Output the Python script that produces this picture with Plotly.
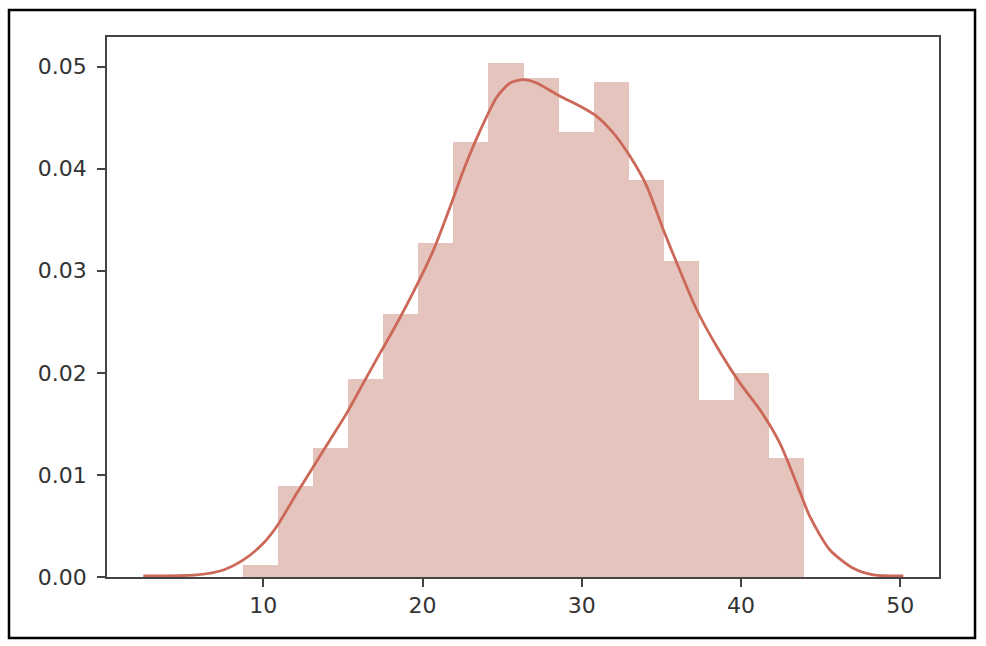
import plotly.graph_objects as go

# Histogram (density) bin edges and heights
bin_edges = [8.71, 10.91, 13.12, 15.32, 17.53, 19.73, 21.94, 24.14, 26.35,
             28.55, 30.75, 32.96, 35.16, 37.37, 39.57, 41.78, 43.98]
bin_density = [0.00118, 0.00892, 0.01262, 0.01941, 0.02578, 0.03271, 0.04258,
               0.05036, 0.04889, 0.04360, 0.04846, 0.03892, 0.03092, 0.01735,
               0.01997, 0.01163]

# KDE curve points
kde_x = [2.46, 5.82, 7.49, 8.74, 10.00, 10.84, 12.10, 13.14, 14.19, 15.24,
         16.28, 17.33, 18.17, 19.42, 20.68, 21.73, 22.56, 23.61, 24.66, 25.50,
         26.33, 27.17, 28.64, 29.90, 30.94, 31.98, 33.03, 34.08, 35.13, 36.17,
         37.22, 38.48, 39.94, 41.20, 42.45, 43.50, 44.34, 45.59, 47.06, 48.31,
         50.20]
kde_y = [0.0001, 0.0002, 0.00069, 0.00167, 0.00330, 0.00494, 0.00820, 0.01081,
         0.01343, 0.01605, 0.01899, 0.02193, 0.02422, 0.02790, 0.03200, 0.03625,
         0.03980, 0.04370, 0.04700, 0.04840, 0.04873, 0.04840, 0.04709, 0.04611,
         0.04513, 0.04350, 0.04121, 0.03830, 0.03400, 0.03000, 0.02618, 0.02258,
         0.01899, 0.01637, 0.01310, 0.00915, 0.00588, 0.00265, 0.00085, 0.00020,
         0.0001]

x_ticks = [10, 20, 30, 40, 50]
y_ticks = [0.00, 0.01, 0.02, 0.03, 0.04, 0.05]
y_tick_labels = ["0.00", "0.01", "0.02", "0.03", "0.04", "0.05"]

centers = [(a + b) / 2 for a, b in zip(bin_edges[:-1], bin_edges[1:])]
widths = [b - a for a, b in zip(bin_edges[:-1], bin_edges[1:])]

fig = go.Figure()
fig.add_trace(go.Bar(
    x=centers, y=bin_density, width=widths,
    marker=dict(color="rgb(230,196,190)", line=dict(width=0)),
    hoverinfo="skip", showlegend=False,
))
fig.add_trace(go.Scatter(
    x=kde_x, y=kde_y, mode="lines",
    line=dict(color="rgb(204,104,88)", width=2.8, shape="spline", smoothing=0.7),
    showlegend=False,
))

axis_common = dict(
    showgrid=False, zeroline=False, showline=True, linecolor="#444",
    linewidth=1.6, mirror=True, ticks="outside", ticklen=8, tickwidth=1.5,
    tickcolor="#444", tickfont=dict(family="DejaVu Sans", size=22, color="#333"),
)

fig.update_layout(
    width=986, height=646,
    margin=dict(l=107, r=47, t=37, b=69),
    paper_bgcolor="white", plot_bgcolor="white",
    bargap=0,
    xaxis=dict(range=[0.18, 52.44], tickvals=x_ticks, **axis_common),
    yaxis=dict(range=[0, 0.0529], tickvals=y_ticks, ticktext=y_tick_labels,
               ticklabelstandoff=6, **axis_common),
    shapes=[dict(type="rect", xref="paper", yref="paper",
                 x0=-0.1178, x1=1.0433, y0=-0.113, y1=1.05,
                 line=dict(color="black", width=2.5), layer="above")],
)

fig.write_html(
    "out.html",
    config={"displayModeBar": False},
    post_script="document.body.style.margin='0';document.body.style.overflow='hidden';",
)
